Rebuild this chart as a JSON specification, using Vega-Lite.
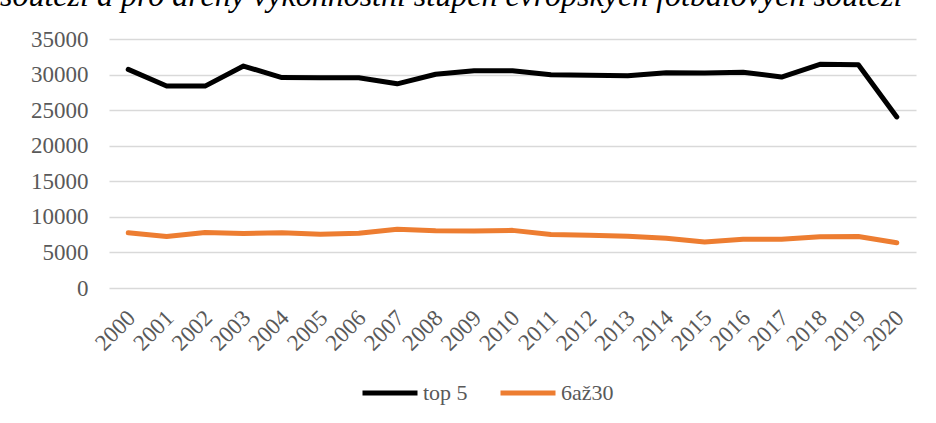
{
  "$schema": "https://vega.github.io/schema/vega-lite/v6.json",
  "width": 807,
  "height": 249,
  "autosize": {"type": "none"},
  "padding": {"left": 109, "top": 39, "right": 20, "bottom": 135},
  "background": "white",
  "title": {
    "text": "soutěží a pro arény výkonnostní stupeň evropských fotbalových soutěží",
    "anchor": "start",
    "frame": "group",
    "font": "Liberation Serif",
    "fontStyle": "italic",
    "fontWeight": "normal",
    "fontSize": 32,
    "color": "#000000",
    "dx": -109,
    "offset": 0,
    "baseline": "alphabetic",
    "dy": 10
  },
  "data": {
    "values": [
      {"year": "2000", "series": "top 5", "value": 30730},
      {"year": "2001", "series": "top 5", "value": 28400},
      {"year": "2002", "series": "top 5", "value": 28380},
      {"year": "2003", "series": "top 5", "value": 31200},
      {"year": "2004", "series": "top 5", "value": 29580},
      {"year": "2005", "series": "top 5", "value": 29550},
      {"year": "2006", "series": "top 5", "value": 29550},
      {"year": "2007", "series": "top 5", "value": 28700},
      {"year": "2008", "series": "top 5", "value": 30050},
      {"year": "2009", "series": "top 5", "value": 30550},
      {"year": "2010", "series": "top 5", "value": 30550},
      {"year": "2011", "series": "top 5", "value": 29990},
      {"year": "2012", "series": "top 5", "value": 29900},
      {"year": "2013", "series": "top 5", "value": 29850},
      {"year": "2014", "series": "top 5", "value": 30270},
      {"year": "2015", "series": "top 5", "value": 30220},
      {"year": "2016", "series": "top 5", "value": 30340},
      {"year": "2017", "series": "top 5", "value": 29650},
      {"year": "2018", "series": "top 5", "value": 31450},
      {"year": "2019", "series": "top 5", "value": 31380},
      {"year": "2020", "series": "top 5", "value": 24050},
      {"year": "2000", "series": "6až30", "value": 7750},
      {"year": "2001", "series": "6až30", "value": 7250},
      {"year": "2002", "series": "6až30", "value": 7800},
      {"year": "2003", "series": "6až30", "value": 7650},
      {"year": "2004", "series": "6až30", "value": 7780},
      {"year": "2005", "series": "6až30", "value": 7570},
      {"year": "2006", "series": "6až30", "value": 7700},
      {"year": "2007", "series": "6až30", "value": 8250},
      {"year": "2008", "series": "6až30", "value": 8050},
      {"year": "2009", "series": "6až30", "value": 8000},
      {"year": "2010", "series": "6až30", "value": 8100},
      {"year": "2011", "series": "6až30", "value": 7520},
      {"year": "2012", "series": "6až30", "value": 7420},
      {"year": "2013", "series": "6až30", "value": 7280},
      {"year": "2014", "series": "6až30", "value": 7000},
      {"year": "2015", "series": "6až30", "value": 6480},
      {"year": "2016", "series": "6až30", "value": 6850},
      {"year": "2017", "series": "6až30", "value": 6850},
      {"year": "2018", "series": "6až30", "value": 7220},
      {"year": "2019", "series": "6až30", "value": 7240},
      {"year": "2020", "series": "6až30", "value": 6350}
    ]
  },
  "mark": {"type": "line", "strokeWidth": 5, "strokeCap": "round", "strokeJoin": "round"},
  "encoding": {
    "x": {
      "field": "year",
      "type": "ordinal",
      "scale": {"type": "point", "padding": 0.5},
      "axis": {
        "title": null,
        "domain": false,
        "ticks": false,
        "grid": false,
        "labelAngle": -45,
        "labelAlign": "right",
        "labelBaseline": "middle",
        "labelPadding": 26,
        "labelOffset": 3,
        "labelFont": "Liberation Serif",
        "labelFontSize": 23,
        "labelColor": "#595959"
      }
    },
    "y": {
      "field": "value",
      "type": "quantitative",
      "scale": {"domain": [0, 35000], "nice": false},
      "axis": {
        "title": null,
        "domain": false,
        "ticks": false,
        "values": [0, 5000, 10000, 15000, 20000, 25000, 30000, 35000],
        "format": "d",
        "gridColor": "#d9d9d9",
        "gridWidth": 1.5,
        "labelPadding": 21,
        "labelFont": "Liberation Serif",
        "labelFontSize": 23,
        "labelColor": "#595959"
      }
    },
    "color": {
      "field": "series",
      "type": "nominal",
      "scale": {"domain": ["top 5", "6až30"], "range": ["#000000", "#ED7D31"]},
      "legend": {
        "title": null,
        "orient": "none",
        "direction": "horizontal",
        "legendX": 251,
        "legendY": 324,
        "symbolType": "stroke",
        "symbolSize": 3025,
        "symbolStrokeWidth": 5,
        "labelFont": "Liberation Serif",
        "labelFontSize": 22,
        "labelColor": "#595959",
        "labelOffset": 3,
        "columnPadding": 22
      }
    }
  },
  "config": {"view": {"stroke": null}}
}
